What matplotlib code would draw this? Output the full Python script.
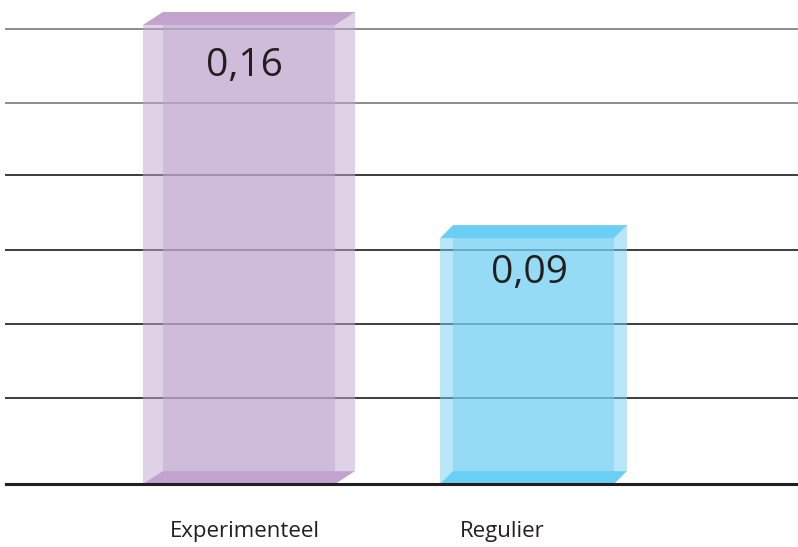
import matplotlib
matplotlib.use("Agg")
import matplotlib.pyplot as plt
from matplotlib.patches import Polygon

plt.rcParams['font.family'] = ['Open Sans', 'DejaVu Sans']

# data
categories = ['Experimenteel', 'Regulier']
values = [0.16, 0.0857]

# decorative gridlines (no axis labels in the original)
grid_y = [0.0300, 0.0558, 0.0816, 0.1077, 0.1328, 0.1586]
grid_colors = ['#3c3c3c', '#3c3c3c', '#3c3c3c', '#3c3c3c', '#8c8c8c', '#8c8c8c']

# look of the glass boxes
widths = [0.667, 0.604]
depth_x = [0.069, 0.045]
depth_y = 0.0045
glass = ['#c1a7d1', '#75d1f3']
cap = ['#c1a3cd', '#6bcff5']
label_drop = [41, 35]  # pixels from the top of the box to the value label

fig = plt.figure(figsize=(7.98, 5.47), dpi=100)
ax = fig.add_axes([0, 0, 1, 1])
ax.set_xlim(-0.830, 1.941)
ax.set_ylim(-0.02196, 0.1687)
ax.axis('off')

for y, c in zip(grid_y, grid_colors):
    ax.axhline(y, xmin=0.008, xmax=1, color=c, lw=1.4, zorder=1)

x = list(range(len(categories)))
for i, v in enumerate(values):
    w = widths[i]
    dx = depth_x[i]
    # front face and back face, half transparent so they overlap darker
    ax.bar(x[i], v, width=w, color=glass[i], alpha=0.5, lw=0, zorder=2)
    ax.bar(x[i] + dx, v, width=w, bottom=depth_y, color=glass[i], alpha=0.5, lw=0, zorder=2)
    left = x[i] - w / 2
    right = x[i] + w / 2
    top = Polygon([(left, v), (right, v), (right + dx, v + depth_y), (left + dx, v + depth_y)],
                  closed=True, color=cap[i], lw=0, zorder=3)
    floor = Polygon([(left, 0), (right, 0), (right + dx, depth_y), (left + dx, depth_y)],
                    closed=True, color=cap[i], lw=0, zorder=3)
    ax.add_patch(top)
    ax.add_patch(floor)
    ax.annotate(f"{v:.2f}".replace('.', ','), (x[i] + dx / 2 - 0.015, v),
                xytext=(0, -label_drop[i]), textcoords='offset pixels',
                ha='center', va='center', fontsize=28, color='#231f20', zorder=4)

ax.axhline(0, xmin=0.008, xmax=1, color='#231f20', lw=2.2, zorder=5)

label_x = [x[0] + 0.021, x[1] - 0.087]
for lx, name in zip(label_x, categories):
    ax.text(lx, -0.0185, name, ha='center', va='baseline', fontsize=16, color='#231f20')

fig.savefig('out.png', dpi=100)
